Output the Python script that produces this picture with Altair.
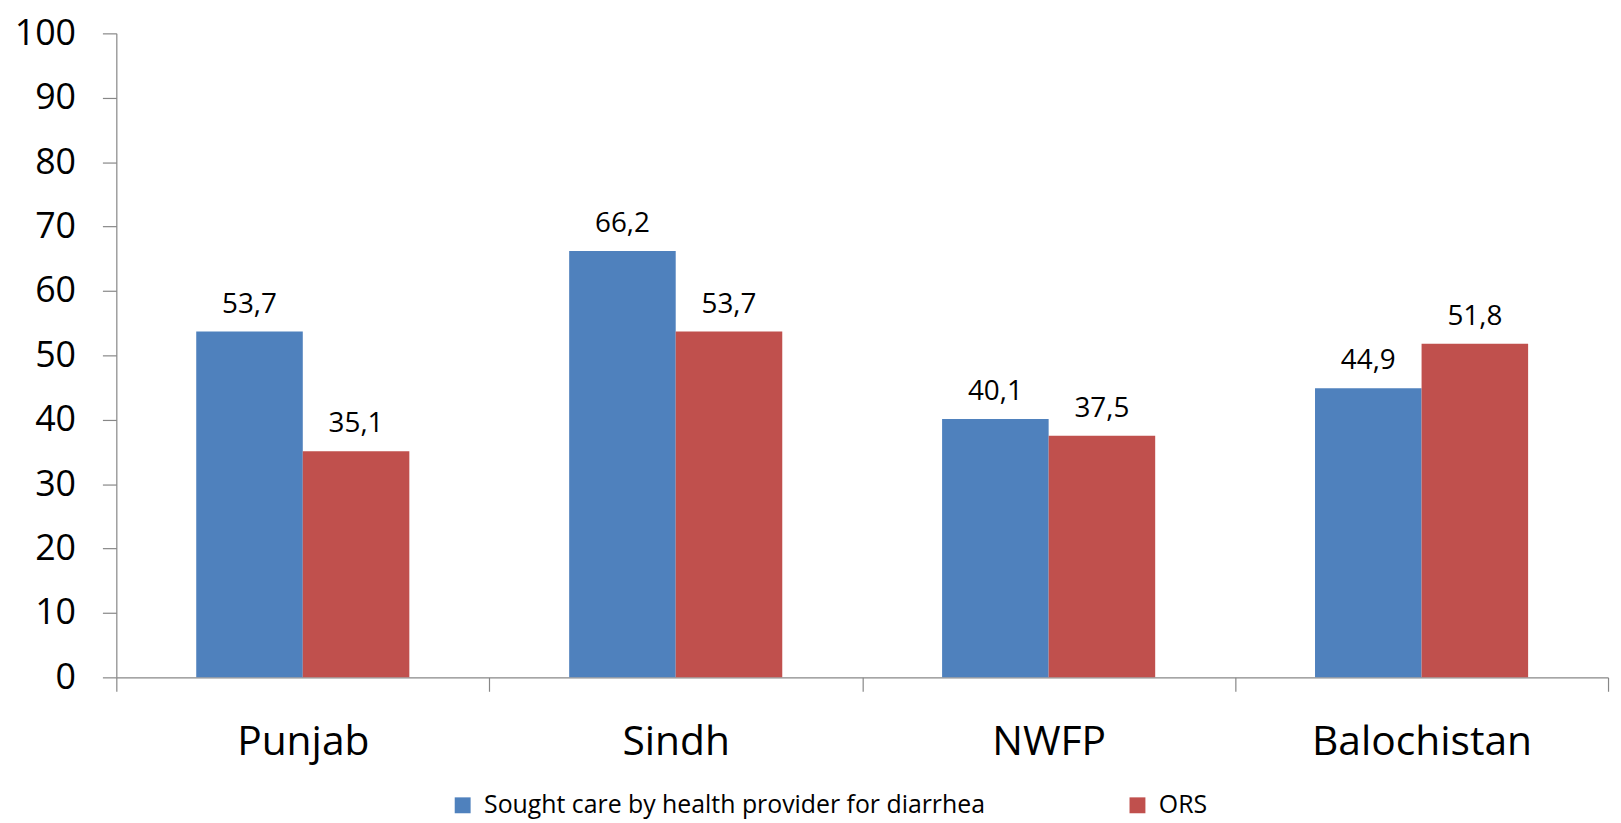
import altair as alt
import pandas as pd

regions = ["Punjab", "Sindh", "NWFP", "Balochistan"]
series = ["Sought care by health provider for diarrhea", "ORS"]
sought = [53.7, 66.2, 40.1, 44.9]
ors = [35.1, 53.7, 37.5, 51.8]
colors = ["#4F81BD", "#C0504D"]
y_ticks = list(range(0, 101, 10))

rows = []
for i, r in enumerate(regions):
    rows.append({"region": r, "series": series[0], "value": sought[i]})
    rows.append({"region": r, "series": series[1], "value": ors[i]})
df = pd.DataFrame(rows)

FONT = "Open Sans"
AXIS_COLOR = "#878787"
W, H = 1501, 648

base = alt.Chart(df).transform_calculate(
    label="replace(format(datum.value, '.1f'), '.', ',')"
).encode(
    x=alt.X(
        "region:N",
        sort=regions,
        scale=alt.Scale(paddingInner=0, paddingOuter=0),
        axis=alt.Axis(
            title=None, labelAngle=0, labelFontSize=41, labelFont=FONT,
            labelColor="black", tickBand="extent", tickSize=14,
            tickColor=AXIS_COLOR, domainColor=AXIS_COLOR, labelPadding=32,
            domainWidth=1.2, tickWidth=1.2, labelLimit=600,
        ),
    ),
    xOffset=alt.XOffset(
        "series:N", sort=series,
        scale=alt.Scale(paddingInner=0, paddingOuter=0.75),
    ),
    y=alt.Y(
        "value:Q",
        scale=alt.Scale(domain=[0, 100], nice=False),
        axis=alt.Axis(
            title=None, values=y_ticks, grid=False, tickSize=14,
            labelPadding=27, labelFontSize=36, labelFont=FONT,
            labelColor="black", tickColor=AXIS_COLOR, domainColor=AXIS_COLOR,
            domainWidth=1.2, tickWidth=1.2,
        ),
    ),
)

bars = base.mark_bar().encode(
    color=alt.Color(
        "series:N",
        sort=series,
        scale=alt.Scale(domain=series, range=colors),
        legend=alt.Legend(
            title=None, orient="none", legendX=336, legendY=764,
            direction="horizontal", columns=2, columnPadding=140,
            symbolType="square", symbolSize=256, symbolStrokeWidth=0,
            labelFontSize=25, labelFont=FONT, labelColor="black",
            labelOffset=9, labelLimit=1000,
        ),
    )
)

labels = base.mark_text(
    baseline="alphabetic", dy=-19, fontSize=28, font=FONT, color="black"
).encode(text="label:N")

chart = alt.layer(bars, labels).properties(
    width=W,
    height=H,
    padding={"left": 109, "top": 23, "right": 5, "bottom": 140},
    autosize=alt.AutoSizeParams(type="none"),
).configure_view(stroke=None)

chart.save("out.html", embed_options={"renderer": "svg", "actions": False})
